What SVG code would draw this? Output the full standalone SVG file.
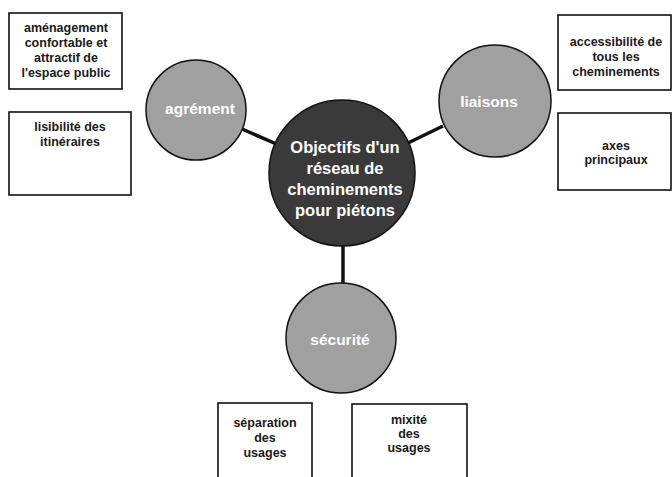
<svg xmlns="http://www.w3.org/2000/svg" width="672" height="477" viewBox="0 0 672 477">
<style>
.box{fill:#fff;stroke:#111;stroke-width:1.6}
.bt{font-family:"Liberation Sans",Arial,sans-serif;font-weight:bold;font-size:12.5px;fill:#1a1a1a;text-anchor:middle}
.circ{fill:#a0a0a0;stroke:#111;stroke-width:1.5}
.core{fill:#3a3a3a;stroke:#111;stroke-width:1.5}
.ct{font-family:"Liberation Sans",Arial,sans-serif;font-weight:bold;font-size:15.5px;fill:#fff;text-anchor:middle}
.mt{font-family:"Liberation Sans",Arial,sans-serif;font-weight:bold;font-size:16.5px;fill:#fff;text-anchor:middle}
.link{stroke:#111;stroke-width:3.5;fill:none}
</style>
<rect width="672" height="477" fill="#fff"/>
<g id="connectors">
<line class="link" x1="242" y1="129" x2="281" y2="146"/>
<line class="link" x1="408" y1="143" x2="443" y2="126"/>
<line class="link" x1="343" y1="245" x2="343" y2="285"/>
</g>
<g id="box-amenagement">
<rect class="box" x="9" y="13" width="113" height="76"/>
<text class="bt" x="66" y="32">aménagement</text>
<text class="bt" x="66" y="47">confortable et</text>
<text class="bt" x="66" y="62">attractif de</text>
<text class="bt" x="66" y="77">l'espace public</text>
</g>
<g id="box-lisibilite">
<rect class="box" x="9" y="112" width="122" height="83"/>
<text class="bt" x="70" y="131">lisibilité des</text>
<text class="bt" x="70" y="146">itinéraires</text>
</g>
<g id="box-accessibilite">
<rect class="box" x="558" y="15" width="113" height="75"/>
<text class="bt" x="616" y="46">accessibilité de</text>
<text class="bt" x="616" y="61">tous les</text>
<text class="bt" x="616" y="76">cheminements</text>
</g>
<g id="box-axes">
<rect class="box" x="558" y="113" width="113" height="77"/>
<text class="bt" x="616" y="150">axes</text>
<text class="bt" x="616" y="164">principaux</text>
</g>
<g id="node-agrement">
<circle class="circ" cx="196" cy="110" r="50"/>
<text class="ct" x="200" y="114">agrément</text>
</g>
<g id="node-liaisons">
<circle class="circ" cx="495" cy="101" r="56"/>
<text class="ct" x="489" y="107">liaisons</text>
</g>
<g id="node-center">
<circle class="core" cx="342" cy="173" r="73"/>
<text class="mt" x="345" y="153">Objectifs d'un</text>
<text class="mt" x="345" y="174">réseau de</text>
<text class="mt" x="345" y="195">cheminements</text>
<text class="mt" x="345" y="216">pour piétons</text>
</g>
<g id="node-securite">
<circle class="circ" cx="341" cy="338" r="55"/>
<text class="ct" x="340" y="345">sécurité</text>
</g>
<g id="box-separation">
<rect class="box" x="218" y="403" width="94" height="90"/>
<text class="bt" x="265" y="427">séparation</text>
<text class="bt" x="265" y="442">des</text>
<text class="bt" x="265" y="457">usages</text>
</g>
<g id="box-mixite">
<rect class="box" x="352" y="404" width="115" height="90"/>
<text class="bt" x="409" y="424">mixité</text>
<text class="bt" x="409" y="438">des</text>
<text class="bt" x="409" y="452">usages</text>
</g>
</svg>
